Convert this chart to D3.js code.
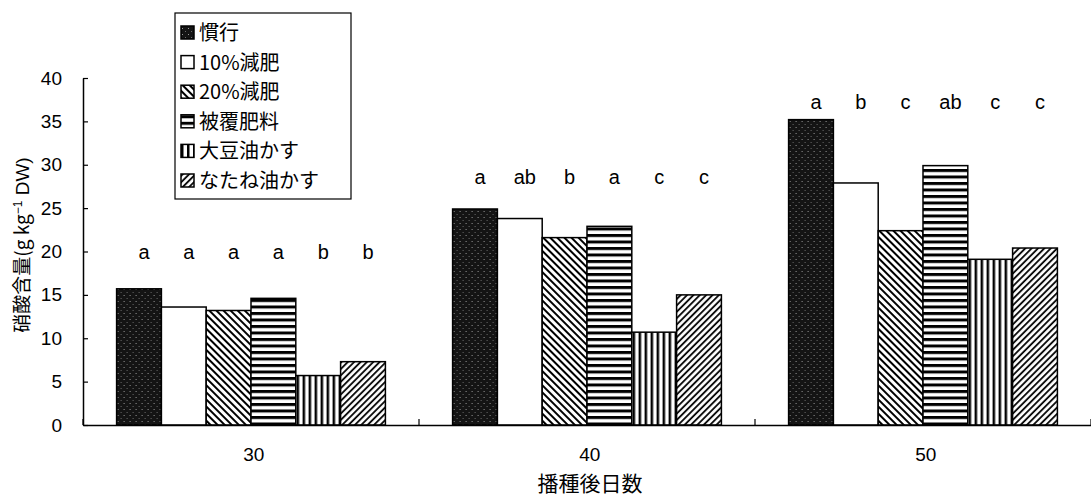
<!DOCTYPE html>
<html><head><meta charset="utf-8">
<script src="https://cdn.jsdelivr.net/npm/d3@7"></script>
<style>body{margin:0;background:#fff}text{fill:#000}</style>
</head><body><svg id="c" width="1091" height="500"></svg>
<script>
const days = ["30", "40", "50"];
const treatments = ["慣行", "10%減肥", "20%減肥", "被覆肥料", "大豆油かす", "なたね油かす"];
const v30 = [15.7, 13.6, 13.2, 14.6, 5.7, 7.3];
const v40 = [24.9, 23.8, 21.6, 22.9, 10.7, 15.0];
const v50 = [35.2, 27.9, 22.4, 29.9, 19.1, 20.4];
const sig30 = ["a", "a", "a", "a", "b", "b"];
const sig40 = ["a", "ab", "b", "a", "c", "c"];
const sig50 = ["a", "b", "c", "ab", "c", "c"];
const sigLevel = [20, 28.6, 37.2];
const yTicks = [0, 5, 10, 15, 20, 25, 30, 35, 40];

const values = [v30, v40, v50];
const sigs = [sig30, sig40, sig50];

const svg = d3.select("#c");
const font = "'Liberation Sans', Arial, sans-serif";
const cjk = "'Noto Sans CJK JP', sans-serif";

const x = d3.scaleBand().domain(days).range([83, 1091]).paddingInner(0.2).paddingOuter(0.1);
const xi = d3.scaleBand().domain(treatments).range([0, x.bandwidth()]);
const y = d3.scaleLinear().domain([0, 40]).range([425, 78]);

// patterns
const defs = svg.append("defs");
const pats = ["p0", "p1", "p2", "p3", "p4", "p5"];
let p = defs.append("pattern").attr("id", "p0").attr("patternUnits", "userSpaceOnUse").attr("width", 6).attr("height", 6);
p.append("rect").attr("width", 6).attr("height", 6).attr("fill", "#141414");
p.append("rect").attr("x", 1).attr("y", 1).attr("width", 1).attr("height", 1).attr("fill", "#9a9a9a");
p.append("rect").attr("x", 4).attr("y", 4).attr("width", 1).attr("height", 1).attr("fill", "#6a6a6a");
p = defs.append("pattern").attr("id", "p1").attr("patternUnits", "userSpaceOnUse").attr("width", 6).attr("height", 6);
p.append("rect").attr("width", 6).attr("height", 6).attr("fill", "#fff");
p = defs.append("pattern").attr("id", "p2").attr("patternUnits", "userSpaceOnUse").attr("width", 5).attr("height", 5).attr("patternTransform", "rotate(-45)");
p.append("rect").attr("width", 5).attr("height", 5).attr("fill", "#fff");
p.append("line").attr("x1", 1).attr("x2", 1).attr("y1", 0).attr("y2", 5).attr("stroke", "#000").attr("stroke-width", 2);
p = defs.append("pattern").attr("id", "p3").attr("patternUnits", "userSpaceOnUse").attr("width", 6).attr("height", 6.5);
p.append("rect").attr("width", 6).attr("height", 6.5).attr("fill", "#fff");
p.append("rect").attr("y", 0).attr("width", 6).attr("height", 3).attr("fill", "#000");
p = defs.append("pattern").attr("id", "p4").attr("patternUnits", "userSpaceOnUse").attr("width", 6).attr("height", 6);
p.append("rect").attr("width", 6).attr("height", 6).attr("fill", "#fff");
p.append("rect").attr("x", 0).attr("width", 2.5).attr("height", 6).attr("fill", "#000");
p = defs.append("pattern").attr("id", "p5").attr("patternUnits", "userSpaceOnUse").attr("width", 4.5).attr("height", 4.5).attr("patternTransform", "rotate(45)");
p.append("rect").attr("width", 4.5).attr("height", 4.5).attr("fill", "#fff");
p.append("line").attr("x1", 1).attr("x2", 1).attr("y1", 0).attr("y2", 4.5).attr("stroke", "#000").attr("stroke-width", 1.8);

// bars
const groups = svg.append("g").selectAll("g").data(days).join("g")
  .attr("transform", d => `translate(${x(d)},0)`);
groups.selectAll("rect").data((d, gi) => values[gi].map((v, i) => ({t: treatments[i], v, i})))
  .join("rect")
  .attr("x", d => xi(d.t)).attr("width", xi.bandwidth())
  .attr("y", d => y(d.v)).attr("height", d => y(0) - y(d.v))
  .attr("fill", d => `url(#${pats[d.i]})`)
  .attr("stroke", "#000").attr("stroke-width", 1.5);

// significance letters
groups.selectAll("text.sig").data((d, gi) => sigs[gi].map((s, i) => ({t: treatments[i], s, gi})))
  .join("text").attr("class", "sig")
  .attr("x", d => xi(d.t) + xi.bandwidth() / 2 + 5)
  .attr("y", d => y(sigLevel[d.gi]))
  .attr("dy", "0.35em")
  .attr("text-anchor", "middle")
  .attr("font-family", font).attr("font-size", 20)
  .text(d => d.s);

// y axis
const ya = svg.append("g").attr("transform", "translate(83,0)")
  .call(d3.axisLeft(y).tickValues(yTicks).tickSize(-5).tickPadding(21).tickSizeOuter(0));
ya.select(".domain").attr("stroke", "#000").attr("stroke-width", 1.5);
ya.selectAll("line").attr("stroke-width", 1.2);
ya.selectAll("text").attr("font-family", font).attr("font-size", 19);

// x axis
const xa = svg.append("g").attr("transform", `translate(0,${y(0)})`)
  .call(d3.axisBottom(x).tickSize(0).tickPadding(23));
xa.select(".domain").attr("stroke", "#000").attr("stroke-width", 1.5);
xa.selectAll("text").attr("font-family", font).attr("font-size", 19).attr("dx", "0.15em");
xa.selectAll(".bnd").data(d3.range(days.length + 1)).join("line").attr("class", "bnd")
  .attr("x1", i => x.range()[0] + i * x.step()).attr("x2", i => x.range()[0] + i * x.step())
  .attr("y1", 0).attr("y2", -6).attr("stroke", "#000").attr("stroke-width", 1.2);

// axis titles
const yt = svg.append("text")
  .attr("transform", "translate(29,245) rotate(-90)")
  .attr("text-anchor", "middle")
  .attr("font-family", cjk).attr("font-size", 19);
yt.append("tspan").text("硝酸含量(g kg");
yt.append("tspan").attr("font-size", 12).attr("dy", -7).attr("font-family", font).text("−1");
yt.append("tspan").attr("dy", 7).attr("font-family", font).text(" DW)");

svg.append("text").attr("x", 590).attr("y", 491)
  .attr("text-anchor", "middle").attr("font-family", cjk).attr("font-size", 21)
  .text("播種後日数");

// legend
const lg = svg.append("g");
lg.append("rect").attr("x", 175).attr("y", 13).attr("width", 176).attr("height", 186)
  .attr("fill", "#fff").attr("stroke", "#000").attr("stroke-width", 1.2);
const li = lg.selectAll("g").data(treatments).join("g")
  .attr("transform", (d, i) => `translate(181,${33 + i * 29.6})`);
li.append("rect").attr("x", 0).attr("y", -7).attr("width", 13).attr("height", 13)
  .attr("fill", (d, i) => `url(#${pats[i]})`).attr("stroke", "#000").attr("stroke-width", 1.5);
li.append("text").attr("x", 18).attr("dy", "0.35em")
  .attr("font-family", cjk).attr("font-size", 20).text(d => d);
</script>
</body></html>
